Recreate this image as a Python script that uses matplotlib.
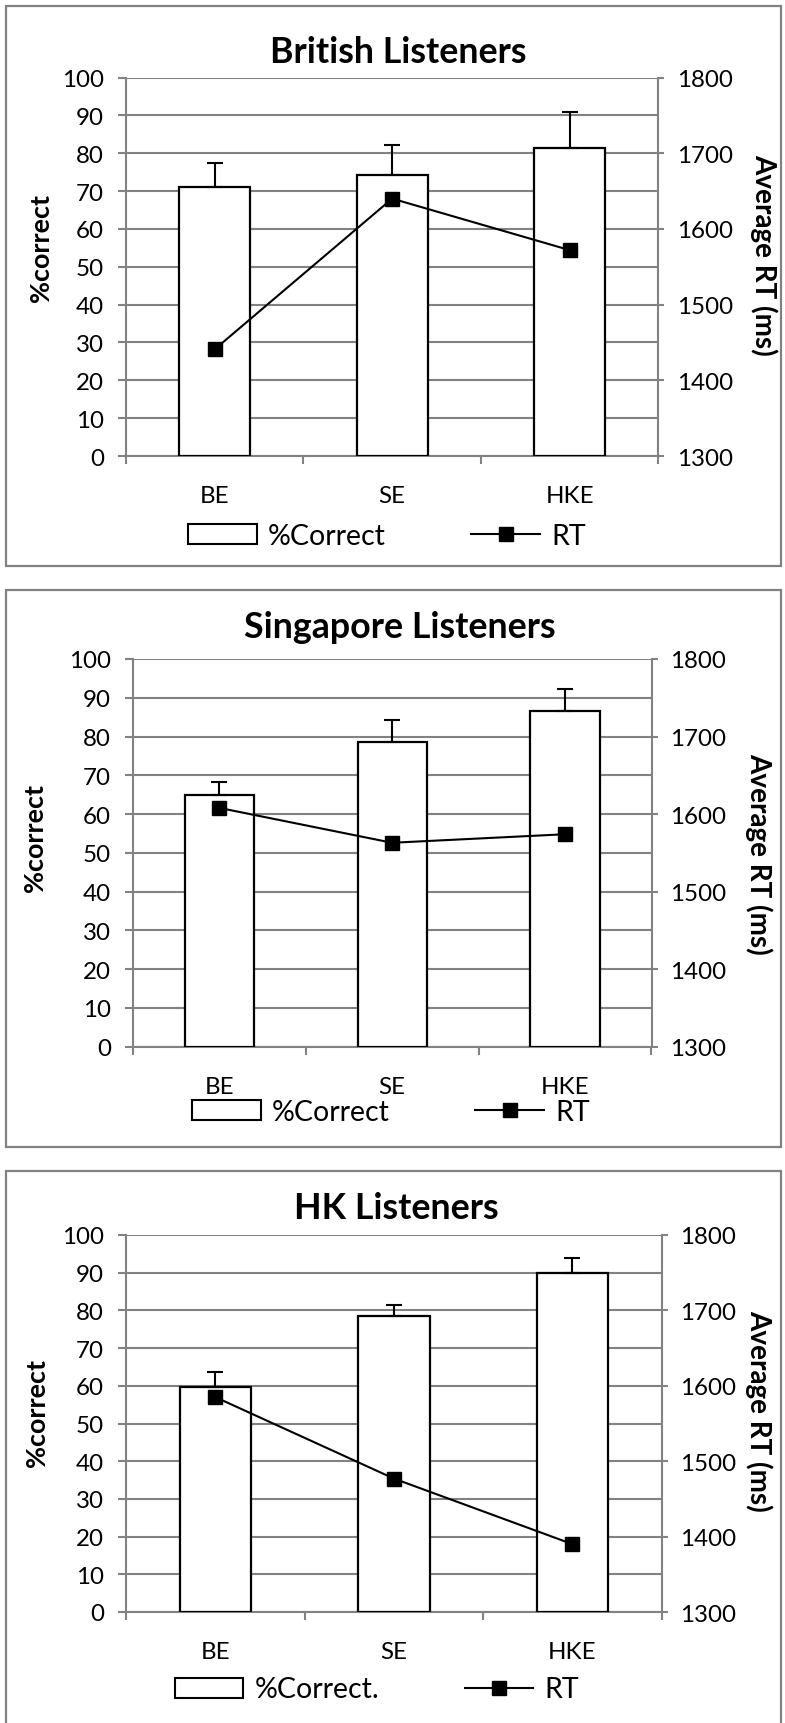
import matplotlib
matplotlib.use('Agg')
import matplotlib.pyplot as plt
from matplotlib.patches import Rectangle, Patch
from matplotlib.lines import Line2D

# ---------------- data ----------------
categories = ['BE', 'SE', 'HKE']
titles = ['British Listeners', 'Singapore Listeners', 'HK Listeners']
legend_bar_labels = ['%Correct', '%Correct', '%Correct.']
legend_line_label = 'RT'

british_correct = [71.1, 74.3, 81.4]
british_err = [6.4, 7.8, 9.5]
british_rt = [1441, 1640, 1572]

singapore_correct = [64.8, 78.5, 86.5]
singapore_err = [3.6, 5.7, 5.8]
singapore_rt = [1608, 1563, 1574]

hk_correct = [59.8, 78.4, 89.9]
hk_err = [3.9, 3.1, 4.0]
hk_rt = [1585, 1477, 1390]

pct_ticks = list(range(0, 101, 10))
rt_ticks = list(range(1300, 1801, 100))

# ---------------- layout (pixels) ----------------
W, H, DPI = 785, 1724, 100
FONT = ['Lato', 'DejaVu Sans']
GRAY = '#828282'

fig = plt.figure(figsize=(W / DPI, H / DPI), dpi=DPI)
renderer = fig.canvas.get_renderer()


def fit(txt, target_px, weight='normal', base=20.0):
    t = fig.text(0, 0, txt, fontsize=base, fontweight=weight, family=FONT)
    w = t.get_window_extent(renderer=renderer).width
    t.remove()
    return base * target_px / w


title_fs = (fit(titles[0], 260, 'bold') + fit(titles[1], 320, 'bold') + fit(titles[2], 199, 'bold')) / 3
tick_fs = fit('100', 42)
ylab_l_fs = fit('%correct', 108, 'bold')
ylab_r_fs = fit('Average RT (ms)', 202, 'bold')
leg_fs = fit('%Correct', 118)


def px(x):
    return x / W


def py(y):
    return 1 - y / H


panels = [
    dict(correct=british_correct, err=british_err, rt=british_rt,
         ax=(126, 658.3, 78.5, 457), frame=(6, 781, 7, 566.7),
         title_y=62.7, title_x=398.6, lab_l=(41, 248), lab_r=(764, 255), leg=(387, 537)),
    dict(correct=singapore_correct, err=singapore_err, rt=singapore_rt,
         ax=(132.7, 651.5, 660, 1047.7), frame=(6, 781, 591, 1148),
         title_y=638, title_x=400, lab_l=(35, 838), lab_r=(759, 854), leg=(391, 1113)),
    dict(correct=hk_correct, err=hk_err, rt=hk_rt,
         ax=(126, 661.7, 1236, 1613), frame=(6, 781, 1172, 1760),
         title_y=1219, title_x=396, lab_l=(37, 1413), lab_r=(759, 1411), leg=(377, 1690.5)),
]

x = list(range(len(categories)))

for i, p in enumerate(panels):
    fx0, fx1, fy0, fy1 = p['frame']
    fig.patches.append(Rectangle((px(fx0), py(fy1)), px(fx1) - px(fx0), py(fy0) - py(fy1),
                                 transform=fig.transFigure, fill=False,
                                 edgecolor=GRAY, linewidth=1.6, zorder=0))

    l, r, t, b = p['ax']
    ax = fig.add_axes([px(l), py(b), px(r) - px(l), py(t) - py(b)])
    ax.set_xlim(-0.5, 2.5)
    ax.set_ylim(0, 100)
    ax.bar(x, p['correct'], width=0.4, color='white', edgecolor='black',
           linewidth=1.6, zorder=3)
    ax.errorbar(x, p['correct'], yerr=[[0] * 3, p['err']], fmt='none',
                ecolor='black', elinewidth=1.5, capsize=5.8, capthick=1.5, zorder=4)
    ax.set_yticks(pct_ticks)
    ax.yaxis.grid(True, color=GRAY, linewidth=1.5)
    ax.set_axisbelow(True)
    for s in ['top', 'right']:
        ax.spines[s].set_visible(False)
    for s in ['left', 'bottom']:
        ax.spines[s].set_color(GRAY)
        ax.spines[s].set_linewidth(1.5)
    ax.set_xticks([-0.5, 0.5, 1.5, 2.5], labels=[''] * 4)
    ax.set_xticks(x, labels=categories, minor=True)
    ax.tick_params(axis='x', which='major', direction='out', length=5.8, width=1.5, color=GRAY)
    ax.tick_params(axis='x', which='minor', length=0, pad=21.0, labelsize=tick_fs)
    ax.tick_params(axis='y', direction='out', length=5.8, width=1.5, color=GRAY,
                   pad=10.0, labelsize=tick_fs)
    for lab in ax.get_xticklabels(minor=True) + ax.get_yticklabels():
        lab.set_family(FONT)

    ax2 = ax.twinx()
    ax2.set_ylim(1300, 1800)
    ax2.set_yticks(rt_ticks)
    ax2.plot(x, p['rt'], color='black', linewidth=1.5, marker='s', markersize=10.5,
             markerfacecolor='black', markeredgecolor='black')
    for s in ['top', 'left', 'bottom']:
        ax2.spines[s].set_visible(False)
    ax2.spines['right'].set_color(GRAY)
    ax2.spines['right'].set_linewidth(1.5)
    ax2.tick_params(axis='y', direction='out', length=4.5, width=1.5, color=GRAY,
                    pad=9, labelsize=tick_fs)
    for lab in ax2.get_yticklabels():
        lab.set_family(FONT)

    fig.text(px(p['title_x']), py(p['title_y']), titles[i], ha='center', va='baseline',
             fontsize=title_fs, fontweight='bold', family=FONT)
    fig.text(px(p['lab_l'][0]), py(p['lab_l'][1]), '%correct', rotation=90,
             ha='center', va='center', fontsize=ylab_l_fs, fontweight='bold', family=FONT)
    fig.text(px(p['lab_r'][0]), py(p['lab_r'][1]), 'Average RT (ms)', rotation=-90,
             ha='center', va='center', fontsize=ylab_r_fs, fontweight='bold', family=FONT)

    handles = [Patch(facecolor='white', edgecolor='black', linewidth=1.5),
               Line2D([], [], color='black', linewidth=1.5, marker='s', markersize=10.5)]
    fig.legend(handles, [legend_bar_labels[i], legend_line_label], ncol=2, loc='center',
               bbox_to_anchor=(px(p['leg'][0]), py(p['leg'][1])), frameon=False,
               borderpad=0, handlelength=2.4, handleheight=0.7, handletextpad=0.4,
               columnspacing=3.0, prop=dict(family=FONT, size=leg_fs))

fig.savefig('out.png', dpi=DPI, facecolor='white')
